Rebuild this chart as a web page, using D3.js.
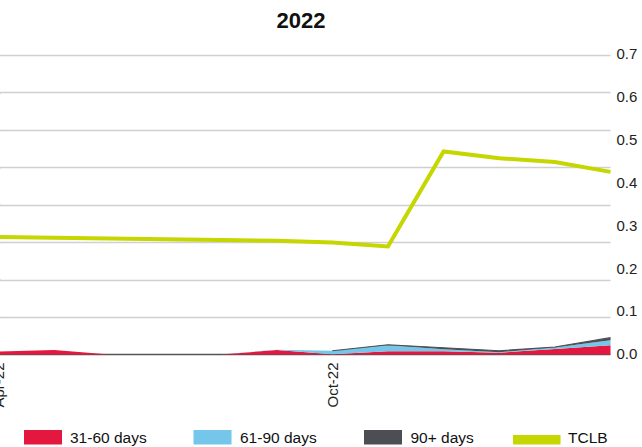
<!DOCTYPE html>
<html><head><meta charset="utf-8">
<script src="https://cdn.jsdelivr.net/npm/d3@7"></script>
<style>
html,body{margin:0;padding:0;background:#fff;overflow:hidden}
text{font-family:"Liberation Sans",Arial,sans-serif}
</style></head>
<body><svg id="c" width="642" height="447"></svg>
<script>
const months = ["Apr-22","May-22","Jun-22","Jul-22","Aug-22","Sep-22","Oct-22","Nov-22","Dec-22","Jan-23","Feb-23","Mar-23"];
const xTickLabels = ["Apr-22","Oct-22"];
const d31_60 = [0.008,0.012,0,0,0,0.012,0.001,0.009,0.009,0.005,0.015,0.025];
const d61_90 = [0,0,0,0,0,0.001,0.009,0.016,0.005,0.001,0.004,0.013];
const d90p   = [0,0,0,0,0,0,0,0.001,0.004,0.004,0.001,0.007];
const tclb   = [0.273,0.271,0.2695,0.268,0.266,0.264,0.260,0.251,0.4725,0.457,0.448,0.425];
const leftTicks = [0,0.1,0.2,0.3,0.4,0.5,0.6,0.7,0.8];
const rightTicks = [0,0.1,0.2,0.3,0.4,0.5,0.6,0.7];
const seriesNames = ["31-60 days","61-90 days","90+ days","TCLB"];
const colors = ["#e4173e","#74c7ea","#4b4f54","#c5d600"];

const svg = d3.select("#c");
const plotL = -1.5, plotR = 610.5, plotB = 354.5, plotT = 55;
const x = d3.scalePoint().domain(months).range([plotL, plotR]);
const yL = d3.scaleLinear().domain([0,0.8]).range([plotB, plotT]);
const yR = d3.scaleLinear().domain([0,0.7]).range([354, 54]);

// title
svg.append("text").attr("x",301).attr("y",28).attr("text-anchor","middle")
  .attr("font-size",22).attr("font-weight","bold").attr("fill","#111").text("2022");

// left axis ticks (labels lie outside the visible frame)
const gL = svg.append("g").attr("transform","translate(0.5,0)")
  .call(d3.axisLeft(yL).tickValues(leftTicks.slice(1)).tickSize(6).tickFormat(""));
gL.select(".domain").remove();
gL.selectAll(".tick line").attr("stroke","#666");
svg.append("g").selectAll("line").data(leftTicks.slice(1)).join("line")
  .attr("x1",0).attr("x2",plotR).attr("y1",d=>Math.round(yL(d))+0.5).attr("y2",d=>Math.round(yL(d))+0.5)
  .attr("stroke","#d0d0d0").attr("stroke-width",1.3);

// right axis
const gR = svg.append("g").attr("transform",`translate(${plotR},0)`)
  .call(d3.axisRight(yR).tickValues(rightTicks).tickSize(0).tickPadding(6).tickFormat(d3.format(".1f")));
gR.select(".domain").remove();
gR.selectAll(".tick text").attr("font-size",15).attr("fill","#222").attr("font-family","Liberation Sans, Arial, sans-serif");

// x axis baseline
svg.append("line").attr("x1",0).attr("x2",plotR).attr("y1",plotB).attr("y2",plotB)
  .attr("stroke","#555").attr("stroke-width",1.5);

// stacked areas
const rows = months.map((m,i)=>({m, a:d31_60[i], b:d61_90[i], c:d90p[i]}));
const stack = d3.stack().keys(["a","b","c"])(rows);
const area = d3.area().x(d=>x(d.data.m)).y0(d=>yL(d[0])).y1(d=>yL(d[1]));
svg.append("g").selectAll("path").data(stack).join("path")
  .attr("d",area).attr("fill",(d,i)=>colors[i]);
svg.append("path").datum(stack[2])
  .attr("d",d3.line().x(d=>x(d.data.m)).y(d=>yL(d[1])).defined((d,i)=>i>=6))
  .attr("fill","none").attr("stroke",colors[2]).attr("stroke-width",1.2);

// x labels
const gX = svg.append("g").attr("transform",`translate(0,${plotB})`)
  .call(d3.axisBottom(x).tickValues(xTickLabels).tickSize(0).tickPadding(0));
gX.select(".domain").remove();
gX.selectAll(".tick text").attr("font-size",15).attr("fill","#222")
  .attr("font-family","Liberation Sans, Arial, sans-serif")
  .attr("text-anchor","end").attr("transform","rotate(-90)")
  .attr("x",-8).attr("y",0).attr("dy","0.35em");

// TCLB line
svg.append("path").datum(tclb)
  .attr("d",d3.line().x((d,i)=>x(months[i])).y(d=>yR(d)))
  .attr("fill","none").attr("stroke",colors[3]).attr("stroke-width",4).attr("stroke-linejoin","miter");

// legend
const legRectX = [24,193.5,364,513];
const legTextX = [70,240,410.5,568];
const lg = svg.append("g");
seriesNames.forEach((n,i)=>{
  if(i<3) lg.append("rect").attr("x",legRectX[i]).attr("y",430).attr("width",38).attr("height",14.5).attr("fill",colors[i]);
  else lg.append("rect").attr("x",legRectX[i]).attr("y",435).attr("width",47.5).attr("height",9.5).attr("fill",colors[i]);
  lg.append("text").attr("x",legTextX[i]).attr("y",443).attr("font-size",15.5).attr("fill","#111").text(n);
});
</script></body></html>
